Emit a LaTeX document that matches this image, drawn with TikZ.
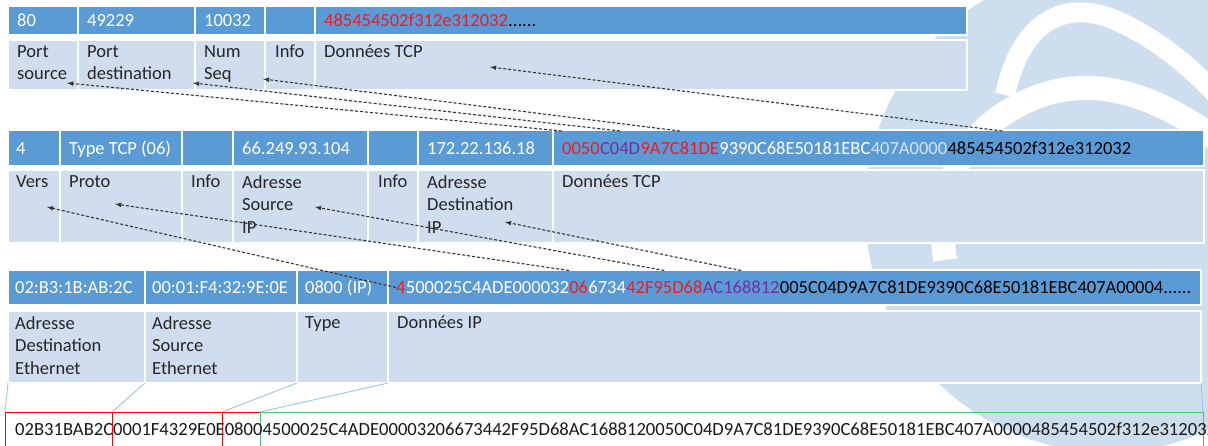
\documentclass[tikz,border=0pt]{standalone}
\usepackage{fontspec}
\setmainfont{Carlito}
\usetikzlibrary{positioning}

\definecolor{hdrblue}{RGB}{91,155,213}
\definecolor{lblblue}{RGB}{207,221,238}
\definecolor{logoblue}{RGB}{205,223,238}
\definecolor{hexred}{RGB}{237,28,36}
\definecolor{hexpurple}{RGB}{112,48,160}
\definecolor{hexpale}{RGB}{214,228,243}
\definecolor{linkblue}{RGB}{157,195,230}
\definecolor{boxgreen}{RGB}{70,195,115}

\tikzset{
  cell/.style={rectangle, draw=white, line width=1.5pt, inner sep=0pt, outer sep=0pt, anchor=north west},
  hdr/.style={cell, fill=hdrblue},
  lbl/.style={cell, fill=lblblue},
  hdrtxt/.style={inner sep=0pt, text height=14pt, text depth=2pt, text=white, font=\fontsize{18.5}{22.5}\selectfont},
  hexseg/.style={hdrtxt, outer ysep=9pt, anchor=base west},
  lbltxt/.style={inner sep=0pt, align=left, text=black!85, font=\fontsize{18.5}{22.8}\selectfont},
  fieldarrow/.style={-latex, densely dashed, line width=1.1pt, black!80},
  boxlink/.style={linkblue, line width=0.9pt},
  stripbox/.style={rectangle, draw=#1, line width=1pt, inner sep=0pt, outer sep=0pt, minimum height=45pt},
  striptxt/.style={inner sep=0pt, text=black!90, font=\fontsize{18.6}{22.5}\selectfont},
}

\begin{document}
\begin{tikzpicture}[x=1pt,y=-1pt]
\fill[white] (0,0) rectangle (1208,445);
\useasboundingbox (0,0) rectangle (1208,445);

%Shape: logo in background
\begin{scope}
\clip (0,0) rectangle (1208,445);
\fill[logoblue] (1108,209) circle [radius=243];
\draw[white, line width=20pt] (1005,95) .. controls (1020,25) and (1060,0) .. (1110,18) .. controls (1160,38) and (1200,75) .. (1230,110);
\draw[white, line width=24pt] (945,260) .. controls (935,190) and (960,140) .. (1010,110) .. controls (1060,80) and (1130,70) .. (1230,150);
\end{scope}

%Shape: TCP table
\node[hdr, minimum width=70pt, minimum height=29pt] (tA) at (8,6) {};
\node[hdr, minimum width=117pt, minimum height=29pt, right=0pt of tA] (tB) {};
\node[hdr, minimum width=70pt, minimum height=29pt, right=0pt of tB] (tC) {};
\node[hdr, minimum width=50pt, minimum height=29pt, right=0pt of tC] (tD) {};
\node[hdr, minimum width=652pt, minimum height=29pt, right=0pt of tD] (tE) {};
\node[lbl, minimum width=70pt, minimum height=50pt, below=5pt of tA] (lA) {};
\node[lbl, minimum width=117pt, minimum height=50pt, right=0pt of lA] (lB) {};
\node[lbl, minimum width=70pt, minimum height=50pt, right=0pt of lB] (lC) {};
\node[lbl, minimum width=50pt, minimum height=50pt, right=0pt of lC] (lD) {};
\node[lbl, minimum width=652pt, minimum height=50pt, right=0pt of lD] (lE) {};

\node[hdrtxt, right=9pt of tA.west] (v80) {80};
\node[hdrtxt, right=9pt of tB.west] (v49229) {49229};
\node[hdrtxt, right=9pt of tC.west] (v10032) {10032};
\node[hexseg, text=hexred, right=9pt of tE.west] (tdata) {485454502f312e312032};
\node[hexseg, text=black] (tdots) at (tdata.base east) {......};

\node[lbltxt, below right=5pt and 9pt of lA.north west] (lsrc) {Port\\source};
\node[lbltxt, below right=5pt and 9pt of lB.north west] (ldst) {Port\\destination};
\node[lbltxt, below right=5pt and 9pt of lC.north west] (lseq) {Num\\Seq};
\node[lbltxt, below right=5pt and 10pt of lD.north west] (linfo) {Info};
\node[lbltxt, below right=5pt and 9pt of lE.north west] (ltcp) {Données TCP};

%Shape: IP table
\node[hdr, minimum width=52pt, minimum height=36pt] (mA) at (8,130) {};
\node[hdr, minimum width=122pt, minimum height=36pt, right=0pt of mA] (mB) {};
\node[hdr, minimum width=51pt, minimum height=36pt, right=0pt of mB] (mC) {};
\node[hdr, minimum width=135pt, minimum height=36pt, right=0pt of mC] (mD) {};
\node[hdr, minimum width=50pt, minimum height=36pt, right=0pt of mD] (mE) {};
\node[hdr, minimum width=135pt, minimum height=36pt, right=0pt of mE] (mF) {};
\node[hdr, minimum width=651pt, minimum height=36pt, right=0pt of mF] (mG) {};
\node[lbl, minimum width=52pt, minimum height=73pt, below=4pt of mA] (nA) {};
\node[lbl, minimum width=122pt, minimum height=73pt, right=0pt of nA] (nB) {};
\node[lbl, minimum width=51pt, minimum height=73pt, right=0pt of nB] (nC) {};
\node[lbl, minimum width=135pt, minimum height=73pt, right=0pt of nC] (nD) {};
\node[lbl, minimum width=50pt, minimum height=73pt, right=0pt of nD] (nE) {};
\node[lbl, minimum width=135pt, minimum height=73pt, right=0pt of nE] (nF) {};
\node[lbl, minimum width=651pt, minimum height=73pt, right=0pt of nF] (nG) {};

\node[hdrtxt, right=8pt of mA.west] (v4) {4};
\node[hdrtxt, right=9pt of mB.west] (vproto) {Type TCP (06)};
\node[hdrtxt, right=9pt of mD.west] (vipsrc) {66.249.93.104};
\node[hdrtxt, right=9pt of mF.west] (vipdst) {172.22.136.18};
\node[hexseg, text=hexred, right=9pt of mG.west] (s0050) {0050};
\node[hexseg, text=hexpurple] (sC04D) at (s0050.base east) {C04D};
\node[hexseg, text=hexred] (s9A7C) at (sC04D.base east) {9A7C81DE};
\node[hexseg] (s9390) at (s9A7C.base east) {9390C68E50181EBC};
\node[hexseg, text=hexpale] (s407A) at (s9390.base east) {407A0000};
\node[hexseg, text=black] (s4854) at (s407A.base east) {485454502f312e312032};

\node[lbltxt, below right=5pt and 8pt of nA.north west] (lvers) {Vers};
\node[lbltxt, below right=5pt and 9pt of nB.north west] (lproto) {Proto};
\node[lbltxt, below right=5pt and 9pt of nC.north west] (linfoa) {Info};
\node[lbltxt, below right=5pt and 9pt of nD.north west] (lipsrc) {Adresse\\Source\\IP};
\node[lbltxt, below right=5pt and 10pt of nE.north west] (linfob) {Info};
\node[lbltxt, below right=5pt and 9pt of nF.north west] (lipdst) {Adresse\\Destination\\IP};
\node[lbltxt, below right=5pt and 9pt of nG.north west] (ltcpb) {Données TCP};

%Shape: Ethernet table
\node[hdr, minimum width=137pt, minimum height=35pt] (eA) at (8,270) {};
\node[hdr, minimum width=152pt, minimum height=35pt, right=0pt of eA] (eB) {};
\node[hdr, minimum width=91pt, minimum height=35pt, right=0pt of eB] (eC) {};
\node[hdr, minimum width=813pt, minimum height=35pt, right=0pt of eC] (eD) {};
\node[lbl, minimum width=137pt, minimum height=72pt, below=6pt of eA] (fA) {};
\node[lbl, minimum width=152pt, minimum height=72pt, right=0pt of fA] (fB) {};
\node[lbl, minimum width=91pt, minimum height=72pt, right=0pt of fB] (fC) {};
\node[lbl, minimum width=813pt, minimum height=72pt, right=0pt of fC] (fD) {};

\node[hdrtxt, right=7pt of eA.west] (vmacdst) {02:B3:1B:AB:2C};
\node[hdrtxt, right=7pt of eB.west] (vmacsrc) {00:01:F4:32:9E:0E};
\node[hdrtxt, right=8pt of eC.west] (vtype) {0800 (IP)};
\node[hexseg, text=hexred, right=8pt of eD.west] (b4) {4};
\node[hexseg] (b5000) at (b4.base east) {500025C4ADE000032};
\node[hexseg, text=hexred] (b06) at (b5000.base east) {06};
\node[hexseg] (b6734) at (b06.base east) {6734};
\node[hexseg, text=hexred] (b42F9) at (b6734.base east) {42F95D68};
\node[hexseg, text=hexpurple] (bAC16) at (b42F9.base east) {AC168812};
\node[hexseg, text=black] (b005C) at (bAC16.base east) {005C04D9A7C81DE9390C68E50181EBC407A00004......};

\node[lbltxt, below right=5pt and 7pt of fA.north west] (lmacdst) {Adresse\\Destination\\Ethernet};
\node[lbltxt, below right=5pt and 7pt of fB.north west] (lmacsrc) {Adresse\\Source\\Ethernet};
\node[lbltxt, below right=5pt and 8pt of fC.north west] (ltype) {Type};
\node[lbltxt, below right=5pt and 9pt of fD.north west] (lipdata) {Données IP};

%Shape: raw frame
\node[stripbox=red, minimum width=107pt, anchor=north west] (rA) at (5,412) {};
\node[stripbox=red, minimum width=110pt, right=0pt of rA] (rB) {};
\node[stripbox=red, minimum width=38pt, right=0pt of rB] (rC) {};
\node[stripbox=boxgreen, minimum width=943pt, right=0pt of rC] (rD) {};
\node[striptxt, anchor=base west] (rawhex) at (15,435) {02B31BAB2C0001F4329E0E08004500025C4ADE00003206673442F95D68AC1688120050C04D9A7C81DE9390C68E50181EBC407A0000485454502f312e312032};

%Straight Lines
\draw[boxlink] (fA.south west) -- (rA.north west);
\draw[boxlink] (fB.south west) -- (rB.north west);
\draw[boxlink] (fC.south west) -- (rC.north west);
\draw[boxlink] (fD.south west) -- (rD.north west);
\draw[boxlink] (fD.south east) -- (rD.north east);

%Arrows
\coordinate (pSrc) at (67,83);
\coordinate (pDst) at (193,83);
\coordinate (pSeq) at (263,79);
\coordinate (pTcp) at (490,67);
\coordinate (pVers) at (47,207);
\coordinate (pProto) at (115,204);
\coordinate (pSrcIP) at (315,207);
\coordinate (pDstIP) at (505,222);
\draw[fieldarrow] (s0050.north west) -- (pSrc);
\draw[fieldarrow] (sC04D.north) -- (pDst);
\draw[fieldarrow] (s9A7C.north) -- (pSeq);
\draw[fieldarrow] ([xshift=55pt]s4854.north west) -- (pTcp);
\draw[fieldarrow] (b4.west) -- (pVers);
\draw[fieldarrow] (b06.north west) -- (pProto);
\draw[fieldarrow] (b42F9.north) -- (pSrcIP);
\draw[fieldarrow] (bAC16.north) -- (pDstIP);
\end{tikzpicture}
\end{document}
